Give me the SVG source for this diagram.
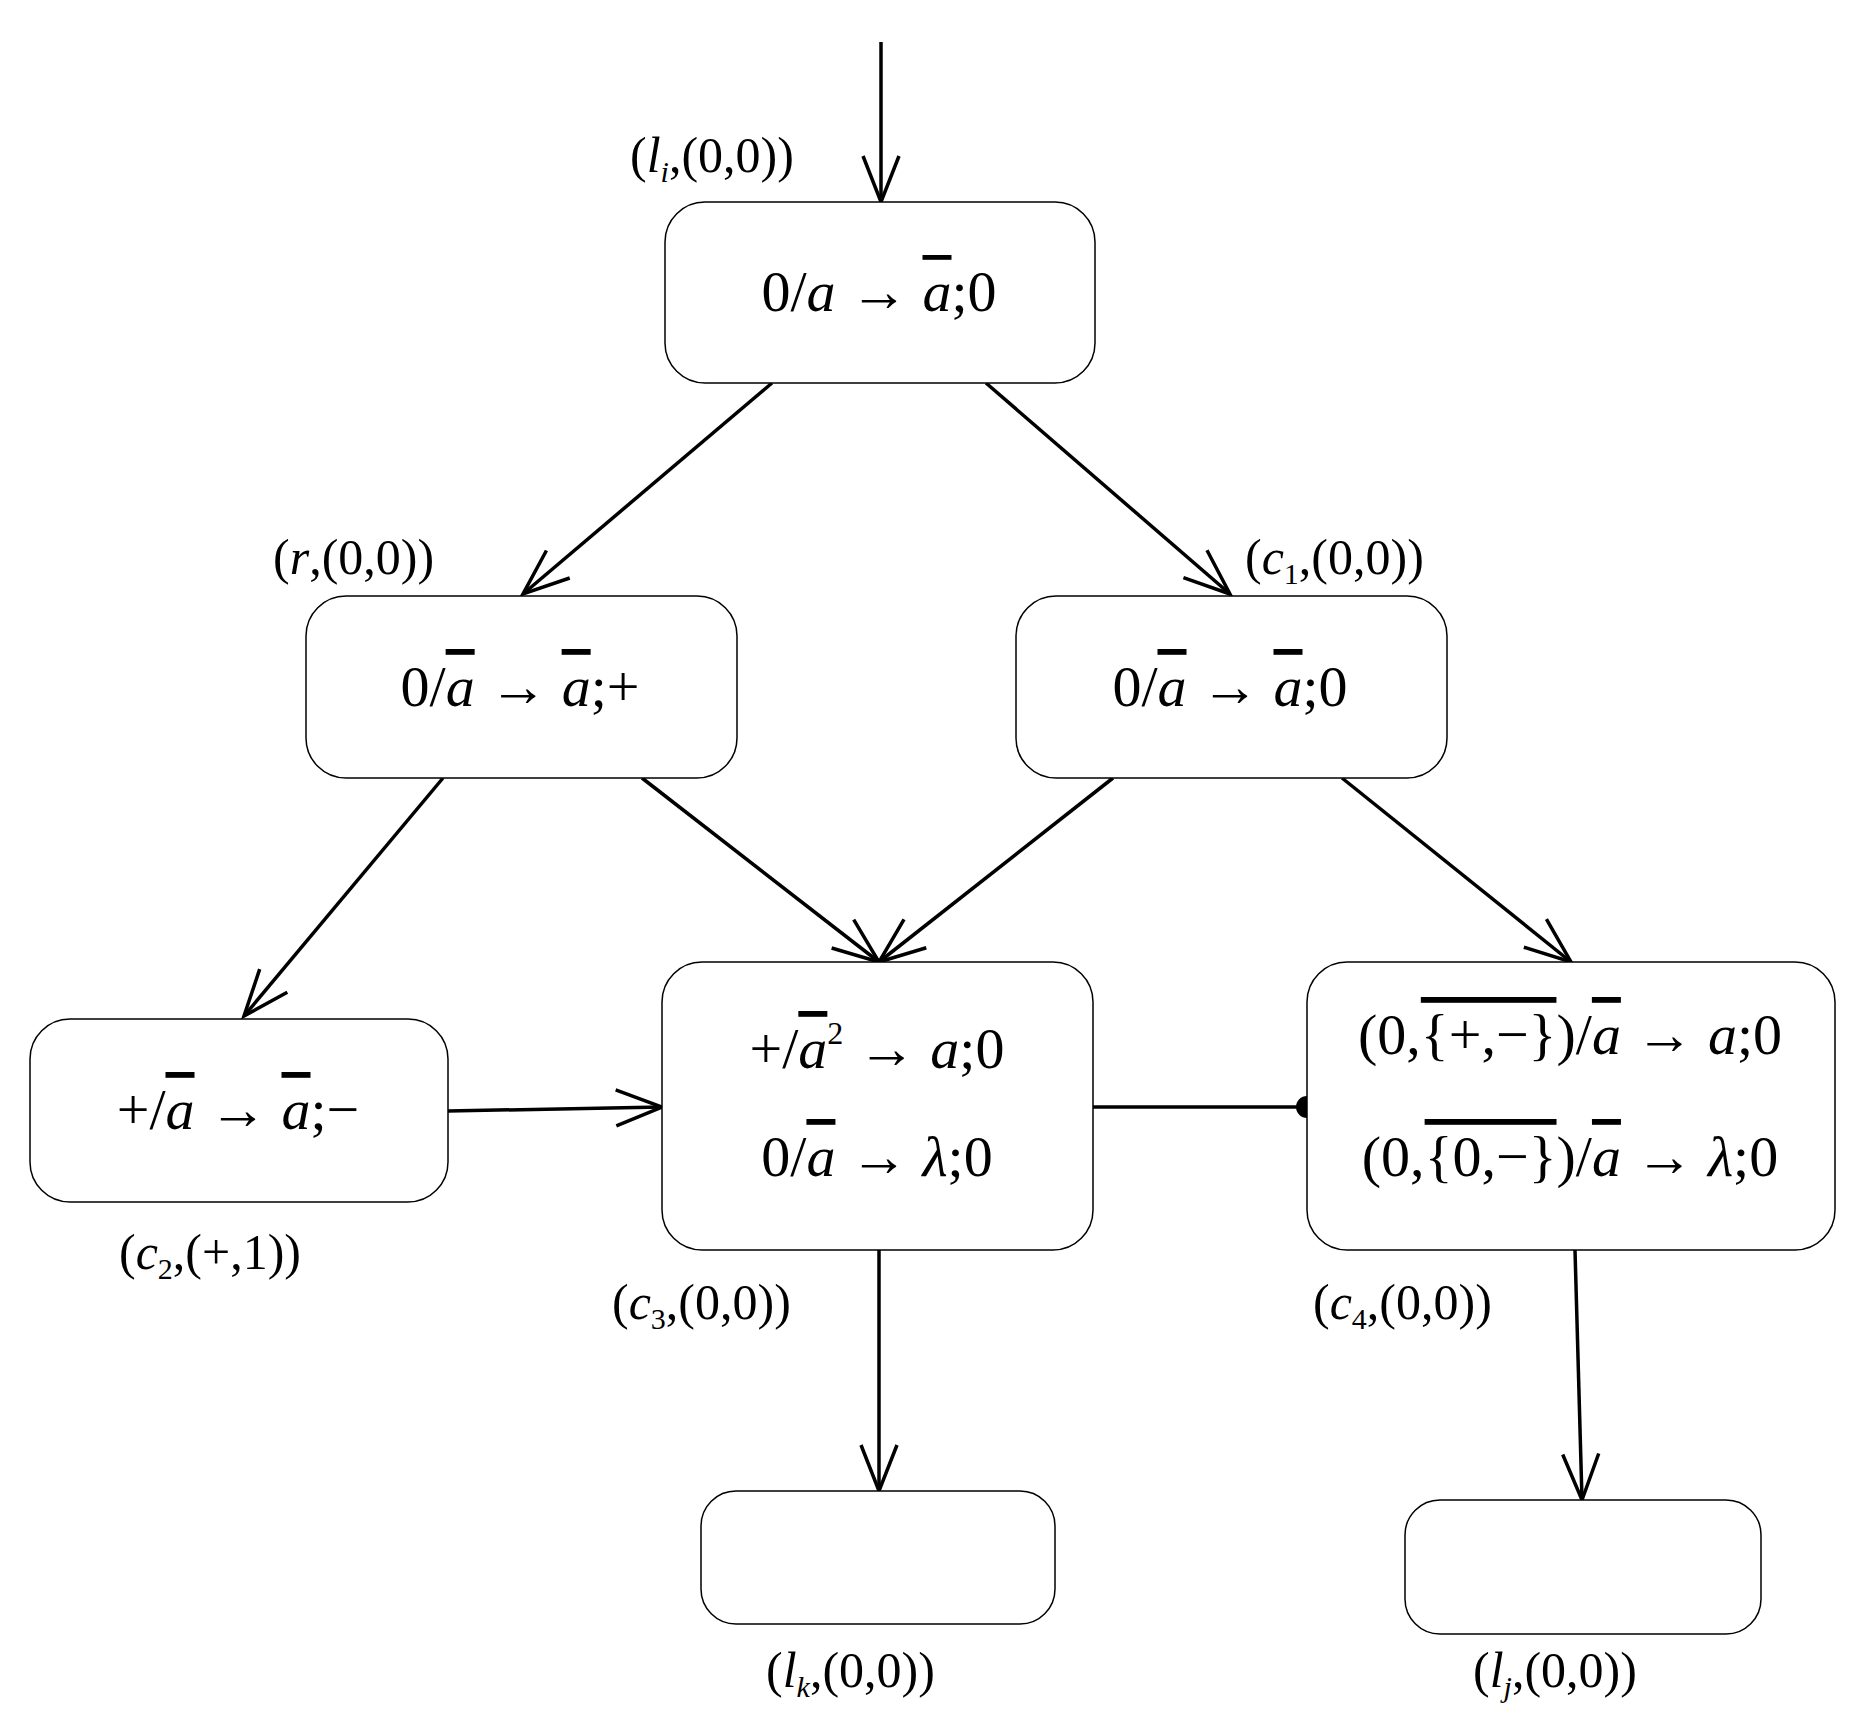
<svg xmlns="http://www.w3.org/2000/svg" width="1853" height="1717" viewBox="0 0 1853 1717">
<style>
.box{fill:#fff;stroke:#000;stroke-width:1.5}
.t{font-family:"Liberation Serif",serif;font-size:58px;fill:#000}
.l{font-family:"Liberation Serif",serif;font-size:50px;fill:#000}
.i{font-style:italic}
.o{text-decoration:overline}
.c{stroke:#000;stroke-width:3.5;fill:none}
</style>
<defs>
<marker id="ah" markerUnits="userSpaceOnUse" markerWidth="60" markerHeight="60" refX="48" refY="20" orient="auto">
<path d="M2,2 L48,20 L2,38" fill="none" stroke="#000" stroke-width="3.5"/>
</marker>
</defs>
<g id="connectors">
<line class="c" x1="881" y1="42" x2="881" y2="202" marker-end="url(#ah)"/>
<line class="c" x1="772" y1="383" x2="523" y2="594" marker-end="url(#ah)"/>
<line class="c" x1="986" y1="383" x2="1230" y2="594" marker-end="url(#ah)"/>
<line class="c" x1="443" y1="778" x2="244" y2="1016" marker-end="url(#ah)"/>
<line class="c" x1="642" y1="778" x2="879" y2="962" marker-end="url(#ah)"/>
<line class="c" x1="1113" y1="778" x2="879" y2="962" marker-end="url(#ah)"/>
<line class="c" x1="1342" y1="778" x2="1571" y2="962" marker-end="url(#ah)"/>
<line class="c" x1="448" y1="1111" x2="662" y2="1107" marker-end="url(#ah)"/>
<line class="c" x1="1093" y1="1107" x2="1307" y2="1107"/>
<circle cx="1307" cy="1107" r="11" fill="#000"/>
<line class="c" x1="879" y1="1250" x2="879" y2="1491" marker-end="url(#ah)"/>
<line class="c" x1="1575" y1="1250" x2="1582" y2="1500" marker-end="url(#ah)"/>
</g>
<g id="li">
<rect class="box" x="665" y="202" width="430" height="181" rx="40"/>
<text class="t" x="879" y="311" text-anchor="middle">0/<tspan class="i">a</tspan> → <tspan class="i o">a</tspan>;0</text>
<text class="l" x="630" y="172">(<tspan class="i">l</tspan><tspan class="i" font-size="30" dy="10">i</tspan><tspan dy="-10">,(0,0))</tspan></text>
</g>
<g id="r">
<rect class="box" x="306" y="596" width="431" height="182" rx="40"/>
<text class="t" x="520" y="706" text-anchor="middle">0/<tspan class="i o">a</tspan> → <tspan class="i o">a</tspan>;+</text>
<text class="l" x="273" y="574">(<tspan class="i">r</tspan>,(0,0))</text>
</g>
<g id="c1">
<rect class="box" x="1016" y="596" width="431" height="182" rx="40"/>
<text class="t" x="1230" y="706" text-anchor="middle">0/<tspan class="i o">a</tspan> → <tspan class="i o">a</tspan>;0</text>
<text class="l" x="1245" y="574">(<tspan class="i">c</tspan><tspan font-size="30" dy="10">1</tspan><tspan dy="-10">,(0,0))</tspan></text>
</g>
<g id="c2">
<rect class="box" x="30" y="1019" width="418" height="183" rx="40"/>
<text class="t" x="238" y="1129" text-anchor="middle">+/<tspan class="i o">a</tspan> → <tspan class="i o">a</tspan>;−</text>
<text class="l" x="119" y="1269">(<tspan class="i">c</tspan><tspan font-size="30" dy="10">2</tspan><tspan dy="-10">,(+,1))</tspan></text>
</g>
<g id="c3">
<rect class="box" x="662" y="962" width="431" height="288" rx="40"/>
<text class="t" x="877" y="1068" text-anchor="middle">+/<tspan class="i o">a</tspan><tspan font-size="32" dy="-24">2</tspan><tspan dy="24"> → </tspan><tspan class="i">a</tspan>;0</text>
<text class="t" x="877" y="1176" text-anchor="middle">0/<tspan class="i o">a</tspan> → <tspan class="i">λ</tspan>;0</text>
<text class="l" x="612" y="1319">(<tspan class="i">c</tspan><tspan font-size="30" dy="10">3</tspan><tspan dy="-10">,(0,0))</tspan></text>
</g>
<g id="c4">
<rect class="box" x="1307" y="962" width="528" height="288" rx="40"/>
<text class="t" x="1570" y="1054" text-anchor="middle">(0,<tspan class="o">{+,−}</tspan>)/<tspan class="i o">a</tspan> → <tspan class="i">a</tspan>;0</text>
<text class="t" x="1570" y="1176" text-anchor="middle">(0,<tspan class="o">{0,−}</tspan>)/<tspan class="i o">a</tspan> → <tspan class="i">λ</tspan>;0</text>
<text class="l" x="1313" y="1319">(<tspan class="i">c</tspan><tspan font-size="30" dy="10">4</tspan><tspan dy="-10">,(0,0))</tspan></text>
</g>
<g id="lk">
<rect class="box" x="701" y="1491" width="354" height="133" rx="35"/>
<text class="l" x="766" y="1687">(<tspan class="i">l</tspan><tspan class="i" font-size="30" dy="10">k</tspan><tspan dy="-10">,(0,0))</tspan></text>
</g>
<g id="lj">
<rect class="box" x="1405" y="1500" width="356" height="134" rx="35"/>
<text class="l" x="1473" y="1687">(<tspan class="i">l</tspan><tspan class="i" font-size="30" dy="10">j</tspan><tspan dy="-10">,(0,0))</tspan></text>
</g>
</svg>
